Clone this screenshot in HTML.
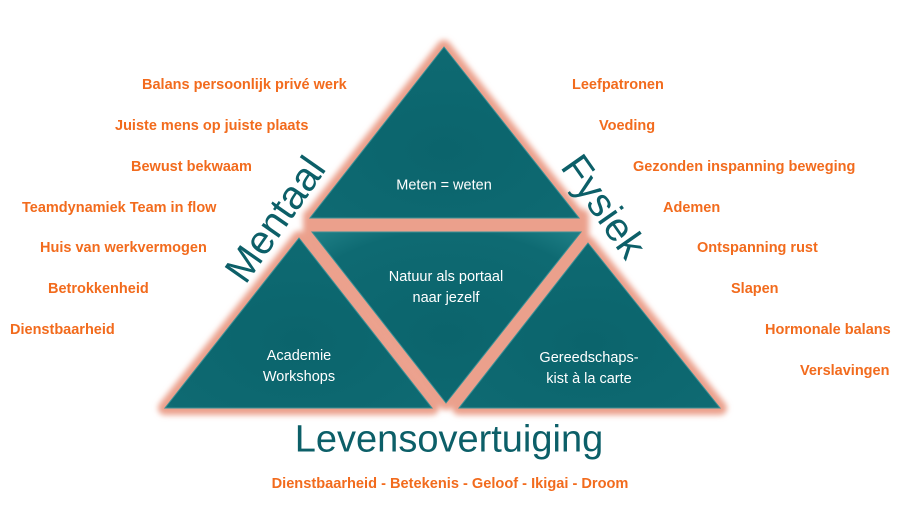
<!DOCTYPE html>
<html><head><meta charset="utf-8"><style>
html,body{margin:0;padding:0;background:#fff;}
#c{position:relative;width:907px;height:508px;overflow:hidden;font-family:"Liberation Sans",sans-serif;}
.o{position:absolute;color:#f26b1d;font-weight:bold;font-size:14.5px;white-space:nowrap;line-height:16px;}
.w{position:absolute;color:#fff;font-size:14.5px;text-align:center;line-height:21px;white-space:nowrap;transform:translate(-50%,-50%);}
.t{position:absolute;color:#0c5f68;white-space:nowrap;transform:translate(-50%,-50%);}
</style></head><body><div id="c">
<svg width="907" height="508" style="position:absolute;left:0;top:0">
<defs>
<filter id="g" x="-20%" y="-20%" width="140%" height="140%"><feGaussianBlur stdDeviation="3"/></filter>
<radialGradient id="tg" cx="50%" cy="60%" r="75%"><stop offset="0" stop-color="#0b646c"/><stop offset="0.8" stop-color="#0e6a72"/><stop offset="1" stop-color="#1d7d84"/></radialGradient>
</defs>
<g filter="url(#g)" fill="#eba08c" stroke="#eba08c" stroke-width="14" stroke-linejoin="round">
<polygon points="444,47 579,218 310,218"/>
<polygon points="312,232 581,232 446,403"/>
<polygon points="299,238 432,408 165,408"/>
<polygon points="588,243 720,408 459,408"/>
<rect x="310" y="216" width="272" height="18"/>
</g>
<g fill="url(#tg)" stroke="#3a9096" stroke-width="1">
<polygon points="444,47 579,218 310,218"/>
<polygon points="312,232 581,232 446,403"/>
<polygon points="299,238 432,408 165,408"/>
<polygon points="588,243 720,408 459,408"/>
</g>
</svg>
<div class="w" style="left:444px;top:186px">Meten = weten</div>
<div class="w" style="left:446px;top:288px">Natuur als portaal<br>naar jezelf</div>
<div class="w" style="left:299px;top:367px">Academie<br>Workshops</div>
<div class="w" style="left:589px;top:369px">Gereedschaps-<br>kist à la carte</div>
<div class="t" style="left:276px;top:220px;font-size:40px;transform:translate(-50%,-50%) rotate(-55deg)">Mentaal</div>
<div class="t" style="left:603px;top:207px;font-size:40px;transform:translate(-50%,-50%) rotate(55deg)">Fysiek</div>
<div class="t" style="left:449px;top:440px;font-size:38px">Levensovertuiging</div>
<div class="o" style="left:450px;top:476px;transform:translateX(-50%);font-size:14.6px">Dienstbaarheid - Betekenis - Geloof - Ikigai - Droom</div>
<div class="o" style="left:142px;top:77px">Balans persoonlijk privé werk</div>
<div class="o" style="left:115px;top:118px">Juiste mens op juiste plaats</div>
<div class="o" style="left:131px;top:159px">Bewust bekwaam</div>
<div class="o" style="left:22px;top:200px">Teamdynamiek Team in flow</div>
<div class="o" style="left:40px;top:240px">Huis van werkvermogen</div>
<div class="o" style="left:48px;top:281px">Betrokkenheid</div>
<div class="o" style="left:10px;top:322px">Dienstbaarheid</div>
<div class="o" style="left:572px;top:77px">Leefpatronen</div>
<div class="o" style="left:599px;top:118px">Voeding</div>
<div class="o" style="left:633px;top:159px">Gezonden inspanning beweging</div>
<div class="o" style="left:663px;top:200px">Ademen</div>
<div class="o" style="left:697px;top:240px">Ontspanning rust</div>
<div class="o" style="left:731px;top:281px">Slapen</div>
<div class="o" style="left:765px;top:322px">Hormonale balans</div>
<div class="o" style="left:800px;top:363px">Verslavingen</div>
</div></body></html>
